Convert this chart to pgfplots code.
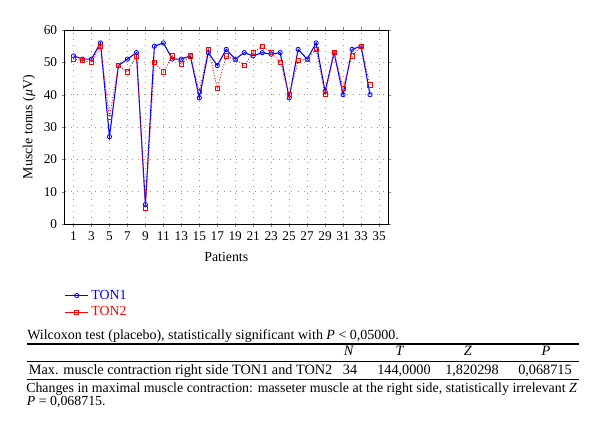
\documentclass[border=0pt]{standalone}
\usepackage{fontspec}
\setmainfont{Liberation Serif}
\usepackage{pgfplots}
\pgfplotsset{compat=1.18}

% TON1 and TON2 per patient
\pgfplotstableread{
p ton1 ton2
1 52 51
2 51 50.5
3 51 50
4 56 55
5 27 33
6 49 49
7 51 47
8 53 52
9 6 5
10 55 50
11 56 47
12 51 52
13 51 49.5
14 52 52
15 39 41
16 53 54
17 49 42
18 54 52
19 51 51
20 53 49
21 52 53
22 53 55
23 52.5 53
24 53 50
25 39 40
26 54 50.5
27 51 51
28 56 54
29 41 40
30 53 53
31 40 42
32 54 52
33 55 55
34 40 43
}\tondata

\newcommand\fs[1]{\fontsize{#1}{12}\selectfont}

\begin{document}
\begin{tikzpicture}
\path[use as bounding box] (0,0) rectangle (450pt,323.25pt);
\begin{axis}[
    at={(48.4pt,155.25pt)}, anchor=south west,
    width=242.6pt, height=145.5pt, scale only axis,
    xmin=0, xmax=36, ymin=0, ymax=60,
    xtick={1,3,...,35}, ytick={0,10,...,60},
    tick align=outside, major tick length=2pt,
    grid=major,
    major grid style={gray!80, line width=0.5pt, dash pattern=on 0.6pt off 4pt},
    tick label style={font=\fs{10}},
    /pgf/number format/assume math mode=true,
    xlabel={Patients}, ylabel={Muscle tonus (\textit{μ}V)},
    label style={font=\fs{10.4}},
    xlabel style={at={(axis description cs:0.5,-0.17)}, anchor=center},
    ylabel style={at={(axis description cs:-0.11,0.5)}, anchor=center},
    axis line style={line width=0.6pt},
    legend style={at={(axis description cs:0.0,-0.325)}, anchor=north west,
        draw=none, fill=none, font=\fs{10.4}, inner sep=0pt},
    legend cell align=left,
]
\addplot[blue, line width=0.8pt, mark=o, mark size=1.6pt,
    mark options={fill=white, line width=0.6pt}] table[x=p, y=ton1] {\tondata};
\addlegendentry{\textcolor{blue}{TON1}}
\addplot[red, line width=0.7pt, dash pattern=on 0.7pt off 1.3pt,
    mark=square, mark size=1.6pt, mark options={solid, fill=white, line width=0.6pt},
    legend image post style={solid}] table[x=p, y=ton2] {\tondata};
\addlegendentry{\textcolor{red}{TON2}}
\end{axis}

% results table
\node[anchor=base west, font=\fs{10.5}, inner sep=0pt] at (20.25pt,68.6pt)
    {Wilcoxon test (placebo), statistically significant with \textit{P} < 0,05000.};
\draw[line width=0.9pt] (20pt,65.25pt) -- (434.25pt,65.25pt);
\draw[line width=0.6pt] (20pt,52.3pt) -- (434.25pt,52.3pt);
\draw[line width=0.9pt] (20pt,38.8pt) -- (434.25pt,38.8pt);
\begin{scope}[every node/.style={anchor=base, font=\fs{10.7}, inner sep=0pt}]
\node at (261.75pt,56.25pt) {\textit{N}};
\node at (300pt,56.25pt) {\textit{T}};
\node at (351pt,56.25pt) {\textit{Z}};
\node at (409.5pt,56.25pt) {\textit{P}};
\node[anchor=base west] at (21.5pt,42.5pt) {Max. muscle contraction right side TON1 and TON2};
\node at (262.5pt,42.5pt) {34};
\node at (303pt,42.5pt) {144,0000};
\node at (354pt,42.5pt) {1,820298};
\node at (408.75pt,42.5pt) {0,068715};
\end{scope}
\node[anchor=base west, font=\fs{10.4}, inner sep=0pt] at (19.5pt,28.5pt)
    {\makebox[413pt][s]{Changes in maximal muscle contraction: masseter muscle at the right side, statistically irrelevant \textit{Z}}};
\node[anchor=base west, font=\fs{10.4}, inner sep=0pt] at (20pt,18.75pt)
    {\textit{P} = 0,068715.};
\end{tikzpicture}
\end{document}
